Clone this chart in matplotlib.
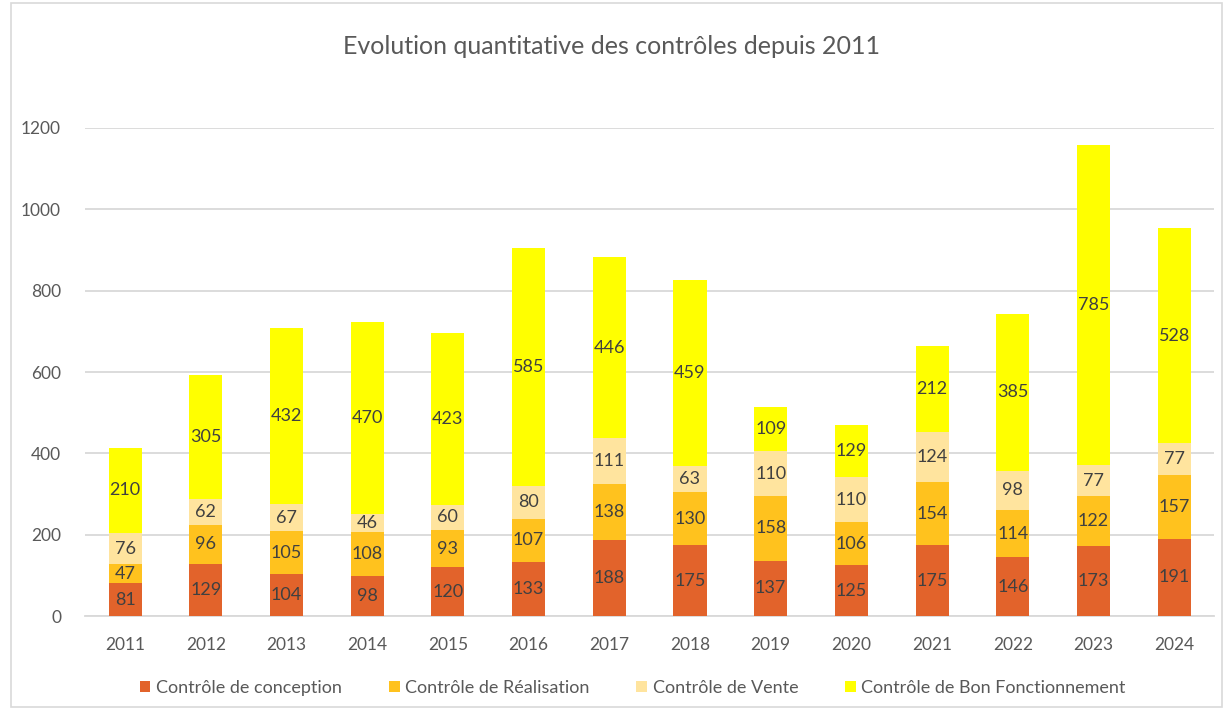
import numpy as np
import matplotlib.pyplot as plt
from matplotlib.patches import Rectangle

annees = ["2011", "2012", "2013", "2014", "2015", "2016", "2017",
          "2018", "2019", "2020", "2021", "2022", "2023", "2024"]
conception = [81, 129, 104, 98, 120, 133, 188, 175, 137, 125, 175, 146, 173, 191]
realisation = [47, 96, 105, 108, 93, 107, 138, 130, 158, 106, 154, 114, 122, 157]
vente = [76, 62, 67, 46, 60, 80, 111, 63, 110, 110, 124, 98, 77, 77]
bon_fonct = [210, 305, 432, 470, 423, 585, 446, 459, 109, 129, 212, 385, 785, 528]

series = [("Contrôle de conception", conception, "#E2632B"),
          ("Contrôle de Réalisation", realisation, "#FFC21E"),
          ("Contrôle de Vente", vente, "#FFE49E"),
          ("Contrôle de Bon Fonctionnement", bon_fonct, "#FFFF00")]

plt.rcParams['font.family'] = ['Lato', 'DejaVu Sans']
gris = "#595959"

fig = plt.figure(figsize=(12.28, 7.10), dpi=100)
ax = fig.add_axes([0.069, 0.132, 0.92, 0.688])

x = np.arange(len(annees))
bas = np.zeros(len(annees))
for nom, vals, coul in series:
    vals = np.array(vals)
    bars = ax.bar(x, vals, 0.41, bottom=bas, color=coul, label=nom, zorder=3)
    ax.bar_label(bars, labels=[str(v) for v in vals], label_type='center',
                 fontsize=13, color="#404040")
    bas += vals

ax.set_xlim(-0.5, len(annees) - 0.5)
ax.set_ylim(0, 1200)
ax.set_yticks(range(0, 1201, 200))
ax.set_xticks(x)
ax.set_xticklabels(annees)
ax.tick_params(length=0, labelsize=12.5, colors=gris, pad=15)
ax.tick_params(axis='y', pad=17)
ax.grid(axis='y', color="#D9D9D9", lw=1.3, zorder=0)
for s in ["top", "right", "left"]:
    ax.spines[s].set_visible(False)
ax.spines["bottom"].set_color("#D9D9D9")
ax.spines["bottom"].set_linewidth(1.3)

fig.text(0.498, 0.935, "Evolution quantitative des contrôles depuis 2011",
         ha='center', va='center', fontsize=18, color=gris)

ax.legend(loc='center', bbox_to_anchor=(0.485, -0.147), ncol=4, frameon=False,
          fontsize=13, labelcolor=gris, handlelength=0.6, handleheight=0.6,
          handletextpad=0.3, columnspacing=2.6)

fig.patches.append(Rectangle((11 / 1228, 0.004), 1211 / 1228, 0.992,
                             transform=fig.transFigure, fill=False,
                             edgecolor="#D9D9D9", lw=1.2))

fig.savefig("out.png", dpi=100)
